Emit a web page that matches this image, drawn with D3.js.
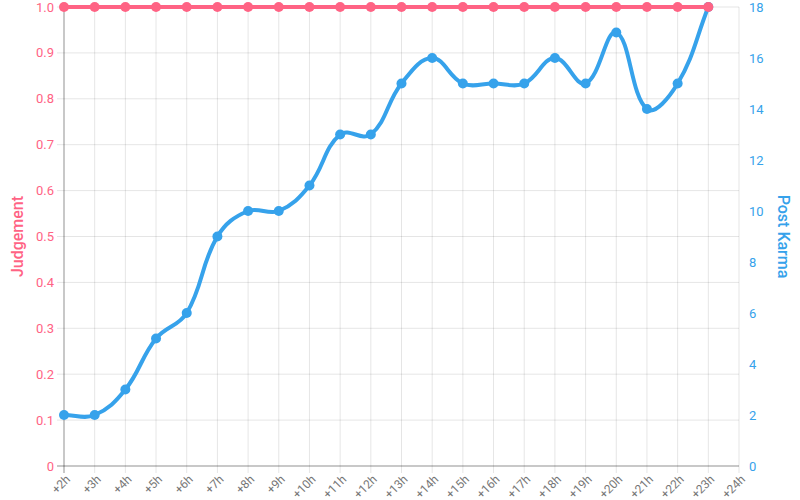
<!DOCTYPE html>
<html><head><meta charset="utf-8">
<script src="https://cdn.jsdelivr.net/npm/d3@7"></script>
<style>body{margin:0;background:#fff}svg{display:block}</style>
</head><body>
<script>
const labels = ["+2h","+3h","+4h","+5h","+6h","+7h","+8h","+9h","+10h","+11h","+12h","+13h","+14h","+15h","+16h","+17h","+18h","+19h","+20h","+21h","+22h","+23h","+24h"];
const judgement = [1,1,1,1,1,1,1,1,1,1,1,1,1,1,1,1,1,1,1,1,1,1];
const karma = [2,2,3,5,6,9,10,10,11,13,13,15,16,15,15,15,16,15,17,14,15,18];
const leftTicks = [0,0.1,0.2,0.3,0.4,0.5,0.6,0.7,0.8,0.9,1.0];
const rightTicks = [0,2,4,6,8,10,12,14,16,18];

const W=800,H=500, L=64, R=739, T=7, B=466;
const red="#ff6384", blue="#36a2eb";
const font="Roboto, 'Liberation Sans', sans-serif";
const svg=d3.select("body").append("svg").attr("width",W).attr("height",H);

const x=d3.scalePoint().domain(labels).range([L,R]);
const yL=d3.scaleLinear().domain([0,1]).range([B,T]);
const yR=d3.scaleLinear().domain([0,18]).range([B,T]);

// grid
const g=svg.append("g");
g.selectAll(".vg").data(labels).join("line")
 .attr("x1",d=>x(d)).attr("x2",d=>x(d)).attr("y1",T).attr("y2",B+7)
 .attr("stroke","rgba(0,0,0,0.1)");
g.selectAll(".hg").data(leftTicks).join("line")
 .attr("x1",L-7).attr("x2",R).attr("y1",d=>yL(d)).attr("y2",d=>yL(d))
 .attr("stroke","rgba(0,0,0,0.1)");
// axis lines
svg.append("line").attr("x1",L).attr("x2",L).attr("y1",T).attr("y2",B+7).attr("stroke","rgba(0,0,0,0.35)");
svg.append("line").attr("x1",L-7).attr("x2",R).attr("y1",B).attr("y2",B).attr("stroke","rgba(0,0,0,0.35)");

// left ticks
svg.selectAll(".lt").data(leftTicks).join("text")
 .attr("x",L-10).attr("y",d=>yL(d)).attr("dy","0.35em").attr("text-anchor","end")
 .attr("fill",red).attr("font-family",font).attr("font-size",13)
 .text(d=>d===0?"0":d3.format(".1f")(d));
// right ticks
svg.selectAll(".rt").data(rightTicks).join("text")
 .attr("x",R+10).attr("y",d=>yR(d)).attr("dy","0.35em").attr("text-anchor","start")
 .attr("fill",blue).attr("font-family",font).attr("font-size",13)
 .text(d=>d);
// x labels
svg.selectAll(".xt").data(labels).join("text")
 .attr("transform",d=>`translate(${x(d)+4},${B+11}) rotate(-45)`)
 .attr("text-anchor","end").attr("dy","0.35em")
 .attr("fill","#777").attr("font-family",font).attr("font-size",12)
 .text(d=>d);
// axis titles
svg.append("text").attr("transform",`translate(17,${(T+B)/2}) rotate(-90)`)
 .attr("text-anchor","middle").attr("dy","0.35em").attr("fill",red)
 .attr("font-family",font).attr("font-size",16).attr("font-weight",500).text("Judgement");
svg.append("text").attr("transform",`translate(784,${(T+B)/2}) rotate(90)`)
 .attr("text-anchor","middle").attr("dy","0.35em").attr("fill",blue)
 .attr("font-family",font).attr("font-size",16).attr("font-weight",500).text("Post Karma");

// Chart.js-style spline
function splinePath(pts,t){
  const cps=pts.map((p,i)=>{
    const prev=pts[Math.max(0,i-1)], next=pts[Math.min(pts.length-1,i+1)];
    const d01=Math.hypot(p[0]-prev[0],p[1]-prev[1]);
    const d12=Math.hypot(next[0]-p[0],next[1]-p[1]);
    let s01=d01/(d01+d12), s12=d12/(d01+d12);
    if(!isFinite(s01))s01=0; if(!isFinite(s12))s12=0;
    const fa=t*s01, fb=t*s12;
    let pv=[p[0]-fa*(next[0]-prev[0]), p[1]-fa*(next[1]-prev[1])];
    let nx=[p[0]+fb*(next[0]-prev[0]), p[1]+fb*(next[1]-prev[1])];
    const cap=v=>[Math.max(L,Math.min(R,v[0])),Math.max(T,Math.min(B,v[1]))];
    return {pv:cap(pv),nx:cap(nx)};
  });
  const path=d3.path();
  path.moveTo(pts[0][0],pts[0][1]);
  for(let i=1;i<pts.length;i++){
    path.bezierCurveTo(cps[i-1].nx[0],cps[i-1].nx[1],cps[i].pv[0],cps[i].pv[1],pts[i][0],pts[i][1]);
  }
  return path.toString();
}

const jPts=judgement.map((v,i)=>[x(labels[i]),yL(v)]);
const kPts=karma.map((v,i)=>[x(labels[i]),yR(v)]);

svg.append("path").attr("d",splinePath(kPts,0.4)).attr("fill","none").attr("stroke",blue).attr("stroke-width",4);
svg.selectAll(".kp").data(kPts).join("circle").attr("cx",d=>d[0]).attr("cy",d=>d[1]).attr("r",5).attr("fill",blue);
svg.append("path").attr("d",splinePath(jPts,0.4)).attr("fill","none").attr("stroke",red).attr("stroke-width",4);
svg.selectAll(".jp").data(jPts).join("circle").attr("cx",d=>d[0]).attr("cy",d=>d[1]).attr("r",5).attr("fill",red);
</script>
</body></html>
